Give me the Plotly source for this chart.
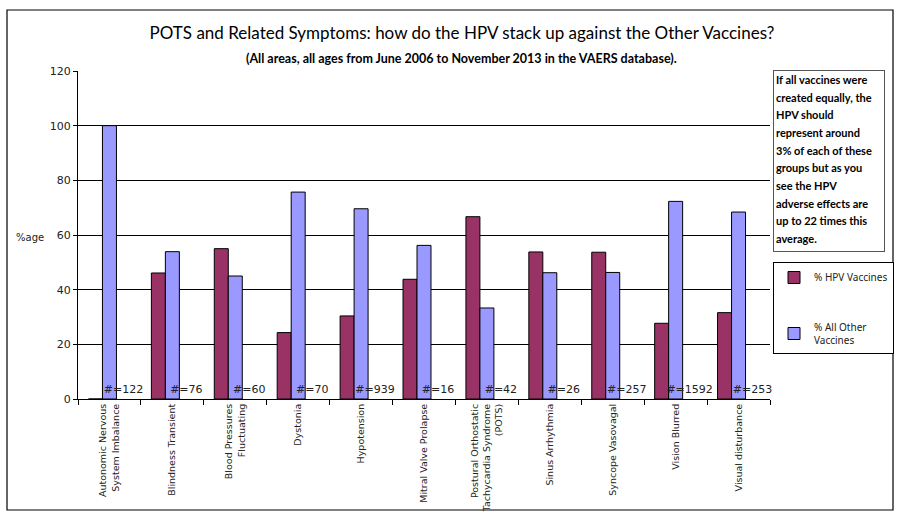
import plotly.graph_objects as go

categories = [
    "Autonomic Nervous<br>System Imbalance",
    "Blindness Transient",
    "Blood Pressures<br>Fluctuating",
    "Dystonia",
    "Hypotension",
    "Mitral Valve Prolapse",
    "Postural Orthostatic<br>Tachycardia Syndrome<br>(POTS)",
    "Sinus Arrhythmia",
    "Syncope Vasovagal",
    "Vision Blurred",
    "Visual disturbance",
]
hpv_pct = [0, 46.1, 55.0, 24.3, 30.4, 43.8, 66.7, 53.8, 53.7, 27.7, 31.6]
other_pct = [100, 53.9, 45.0, 75.7, 69.6, 56.2, 33.3, 46.2, 46.3, 72.3, 68.4]
counts = [122, 76, 60, 70, 939, 16, 42, 26, 257, 1592, 253]
count_labels = ["#=" + str(c) for c in counts]
count_base = [0] * len(categories)

note_lines = [
    "If all vaccines were",
    "created equally, the",
    "HPV should",
    "represent around",
    "3% of each of these",
    "groups but as you",
    "see the HPV",
    "adverse effects are",
    "up to 22 times this",
    "average.",
]

W, H = 900, 520
L, R, T, B = 78, 130, 71, 121
pw, ph = W - L - R, H - T - B


def px_x(x):
    return (x - L) / pw


def px_y(y):
    return (H - B - y) / ph


fig = go.Figure()
fig.add_trace(go.Bar(
    x=categories, y=hpv_pct, name="% HPV Vaccines",
    marker=dict(color="#993366", line=dict(color="black", width=1)),
    legendgroup="a",
))
fig.add_trace(go.Bar(
    x=categories, y=other_pct, name="% All Other<br>Vaccines",
    marker=dict(color="#9999FF", line=dict(color="black", width=1)),
    legendgroup="b",
))
fig.add_trace(go.Bar(
    x=categories, y=count_base, text=count_labels, textposition="outside",
    constraintext="none",
    textfont=dict(family="DejaVu Sans", size=11, color="#222"),
    marker=dict(color="rgba(0,0,0,0)", line=dict(width=0)),
    showlegend=False, cliponaxis=False, hoverinfo="skip",
))

fig.update_layout(
    width=W, height=H,
    margin=dict(l=L, r=R, t=T, b=B, autoexpand=False),
    paper_bgcolor="white", plot_bgcolor="white",
    barmode="group", bargap=0.333, bargroupgap=0,
    font=dict(family="DejaVu Sans", size=10, color="black"),
    title=dict(
        text="POTS and Related Symptoms: how do the HPV stack up against the Other Vaccines?",
        x=462 / W, xanchor="center", y=1 - 33 / H, yanchor="middle",
        font=dict(family="Lato", size=17, color="black"),
    ),
    legend=dict(
        x=px_x(773), y=px_y(262), xanchor="left", yanchor="top",
        bordercolor="black", borderwidth=1, bgcolor="white",
        font=dict(family="Noto Sans", size=10, color="#222"),
        tracegroupgap=32, itemwidth=30,
    ),
    showlegend=True,
)
fig.update_xaxes(
    showline=True, linecolor="black", linewidth=1,
    ticks="outside", tickson="boundaries", ticklen=5, tickcolor="black",
    tickangle=-90, tickfont=dict(family="DejaVu Sans", size=9.5, color="#222"),
    showgrid=False,
)
fig.update_yaxes(
    range=[0, 120], tickvals=[0, 20, 40, 60, 80, 100, 120],
    showline=True, linecolor="black", linewidth=1,
    ticks="outside", ticklen=4, tickcolor="black",
    showgrid=True, gridcolor="black", gridwidth=1, zeroline=False,
    tickfont=dict(family="DejaVu Sans", size=11, color="#222"),
)

fig.add_annotation(
    xref="paper", yref="paper", x=px_x(462), y=px_y(58),
    text="<b>(All areas, all ages from June 2006 to November 2013 in the VAERS database).</b>",
    showarrow=False, xanchor="center", yanchor="middle",
    font=dict(family="Lato", size=12.5, color="black"),
)
fig.add_annotation(
    xref="paper", yref="paper", x=px_x(30), y=px_y(237),
    text="%age", showarrow=False, xanchor="center", yanchor="middle",
    font=dict(family="DejaVu Sans", size=10, color="#222"),
)
note_text = "<br>".join("<span style='font-size:11px'><b>" + s + "</b></span>" for s in note_lines)
fig.add_annotation(
    xref="paper", yref="paper", x=px_x(773), y=px_y(70),
    text=note_text, showarrow=False, xanchor="left", yanchor="top",
    align="left", valign="top", width=106, height=176,
    bordercolor="#555", borderwidth=1, borderpad=2, bgcolor="white",
    font=dict(family="Lato", size=13.6, color="black"),
)
fig.add_shape(
    type="rect", xref="paper", yref="paper",
    x0=px_x(7), x1=px_x(893), y0=px_y(510), y1=px_y(10),
    line=dict(color="black", width=1.2), fillcolor="rgba(0,0,0,0)", layer="below",
)

fig.write_html(
    "out.html",
    config={"displayModeBar": False},
    post_script="document.body.style.margin='0px';",
)
